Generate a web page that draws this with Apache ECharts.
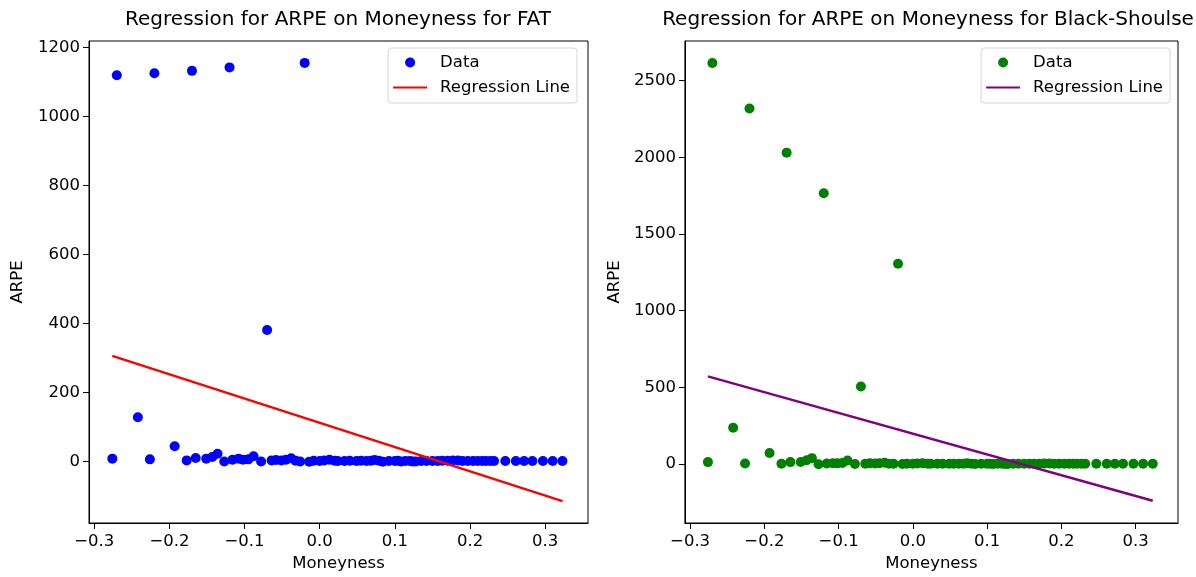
<!DOCTYPE html>
<html>
<head>
<meta charset="utf-8">
<script src="https://cdn.jsdelivr.net/npm/echarts@6/dist/echarts.min.js"></script>
<style>
	html, body { margin: 0; padding: 0; background: #fff; }
	#fat { position: absolute; left: 0; top: 0; width: 598px; height: 577px; }
	#bs { position: absolute; left: 598px; top: 0; width: 598px; height: 577px; }
</style>
</head>
<body>
<div id="fat"></div>
<div id="bs"></div>
<script>
// moneyness of each option, shared by both models
var moneyness = [
	-0.276, -0.270, -0.242, -0.226, -0.220, -0.193, -0.177, -0.170, -0.165, -0.151,
	-0.143, -0.136, -0.127, -0.120, -0.116, -0.108, -0.102, -0.095, -0.088, -0.078,
	-0.070, -0.064, -0.058, -0.051, -0.045, -0.038, -0.032, -0.026, -0.020, -0.014,
	-0.008, 0.000, 0.006, 0.013, 0.020, 0.024, 0.033, 0.040, 0.049, 0.055,
	0.062, 0.068, 0.073, 0.079, 0.084, 0.092, 0.100, 0.104, 0.108, 0.114,
	0.120, 0.124, 0.128, 0.135, 0.142, 0.150, 0.157, 0.163, 0.170, 0.177,
	0.184, 0.190, 0.197, 0.204, 0.210, 0.216, 0.221, 0.227, 0.232, 0.247,
	0.261, 0.272, 0.283, 0.297, 0.310, 0.323
];
var arpeFat = [
	8, 1119, 128, 6, 1125, 44, 3, 1132, 10, 8,
	13, 22, 0, 1142, 5, 8, 5, 6, 15, 0,
	381, 3, 4, 3, 5, 9, 2, 0, 1155, -1,
	2, 1, 3, 5, 2, 1, 1, 2, 1, 2,
	1, 2, 4, 2, -1, 1, 1, 2, 0, 1,
	1, 0, 0, 1, 1, 1, 1, 2, 2, 3,
	3, 1, 1, 1, 1, 1, 1, 1, 1, 1,
	1, 1, 1, 1, 1, 1
];
var arpeBs = [
	12, 2615, 236, 3, 2318, 72, 1, 2030, 12, 13,
	24, 38, -2, 1765, 3, 5, 4, 6, 22, 0,
	505, 2, 4, 3, 5, 8, 2, 1, 1305, 0,
	2, 1, 3, 5, 2, 1, 1, 2, 1, 2,
	1, 2, 4, 2, 0, 1, 1, 2, 0, 1,
	1, 0, 0, 1, 1, 1, 1, 2, 2, 3,
	3, 1, 1, 1, 1, 1, 1, 1, 1, 1,
	1, 1, 1, 1, 1, 1
];
// fitted line, evaluated at the ends of the moneyness range
var lineX = [-0.276, 0.323];
var lineFat = [306, -115];
var lineBs = [571, -240];

var xTicks = [-0.3, -0.2, -0.1, 0.0, 0.1, 0.2, 0.3];
var yTicksFat = [0, 200, 400, 600, 800, 1000, 1200];
var yTicksBs = [0, 500, 1000, 1500, 2000, 2500];

var font = 'DejaVu Sans';
var fs = 16.5;

function pairs(xs, ys) {
	return xs.map(function(x, i) { return [x, ys[i]]; });
}

function makeOption(cfg) {
	return {
		animation : false,
		textStyle : { fontFamily : font },
		graphic : [ {
			type : 'text',
			x : cfg.titleX,
			y : 20,
			style : {
				text : cfg.title,
				font : '20px "DejaVu Sans"',
				fill : '#000',
				textAlign : 'center',
				textVerticalAlign : 'middle'
			}
		} ],
		grid : {
			left : cfg.left, right : cfg.right, top : 41, bottom : 47,
			show : true, borderColor : '#000', borderWidth : 1
		},
		legend : {
			orient : 'vertical',
			right : cfg.legendRight,
			top : 48,
			padding : [ 5, 7, 6, 5 ],
			itemGap : 6,
			itemWidth : 34,
			itemHeight : 10,
			borderColor : '#d6d6d6',
			borderWidth : 1,
			borderRadius : 3,
			backgroundColor : '#fff',
			textStyle : { fontFamily : font, fontSize : fs, color : '#000', lineHeight : 19, padding : [ 0, 0, 0, 8 ] },
			data : [
				{ name : 'Data', icon : 'circle' },
				{ name : 'Regression Line', icon : 'path://M0,0 L34,0 L34,2.2 L0,2.2 Z' }
			]
		},
		xAxis : {
			type : 'value',
			min : -0.307,
			max : 0.357,
			name : 'Moneyness',
			nameLocation : 'middle',
			nameGap : 32,
			nameTextStyle : { fontFamily : font, fontSize : fs, color : '#000' },
			axisLine : { show : true, onZero : false, lineStyle : { color : '#000', width : 1 } },
			axisTick : { show : true, length : 6, customValues : xTicks, lineStyle : { color : '#000' } },
			axisLabel : {
				customValues : xTicks, margin : 10, fontFamily : font, fontSize : fs, color : '#000',
				formatter : function(v) { return v.toFixed(1).replace('-', '\u2212'); }
			},
			splitLine : { show : false }
		},
		yAxis : {
			type : 'value',
			min : cfg.yMin,
			max : cfg.yMax,
			name : 'ARPE',
			nameLocation : 'middle',
			nameGap : cfg.nameGap,
			nameTextStyle : { fontFamily : font, fontSize : fs, color : '#000' },
			axisLine : { show : true, onZero : false, lineStyle : { color : '#000', width : 1 } },
			axisTick : { show : true, length : 6, customValues : cfg.yTicks, lineStyle : { color : '#000' } },
			axisLabel : {
				customValues : cfg.yTicks, margin : 9, fontFamily : font, fontSize : fs, color : '#000',
				formatter : function(v) { return String(v); }
			},
			splitLine : { show : false }
		},
		series : [ {
			name : 'Data',
			type : 'scatter',
			symbol : 'circle',
			symbolSize : 10,
			itemStyle : { color : cfg.dotColor, opacity : 1 },
			data : pairs(moneyness, cfg.values)
		}, {
			name : 'Regression Line',
			type : 'line',
			symbol : 'none',
			lineStyle : { color : cfg.lineColor, width : 2.5 },
			itemStyle : { color : cfg.lineColor },
			data : pairs(lineX, cfg.line)
		} ]
	};
}

var fatChart = echarts.init(document.getElementById('fat'));
fatChart.setOption(makeOption({
	title : 'Regression for ARPE on Moneyness for FAT',
	titleX : 338,
	left : 89, right : 10, legendRight : 21,
	yMin : -178.5, yMax : 1218.5, yTicks : yTicksFat, nameGap : 63,
	dotColor : '#0000ff', lineColor : '#ff0000',
	values : arpeFat, line : lineFat
}));

var bsChart = echarts.init(document.getElementById('bs'));
bsChart.setOption(makeOption({
	title : 'Regression for ARPE on Moneyness for Black-Shoulse',
	titleX : 330,
	left : 81, right : 18, legendRight : 26,
	yMin : -385, yMax : 2758, yTicks : yTicksBs, nameGap : 61,
	dotColor : '#008000', lineColor : '#800080',
	values : arpeBs, line : lineBs
}));
</script>
</body>
</html>
